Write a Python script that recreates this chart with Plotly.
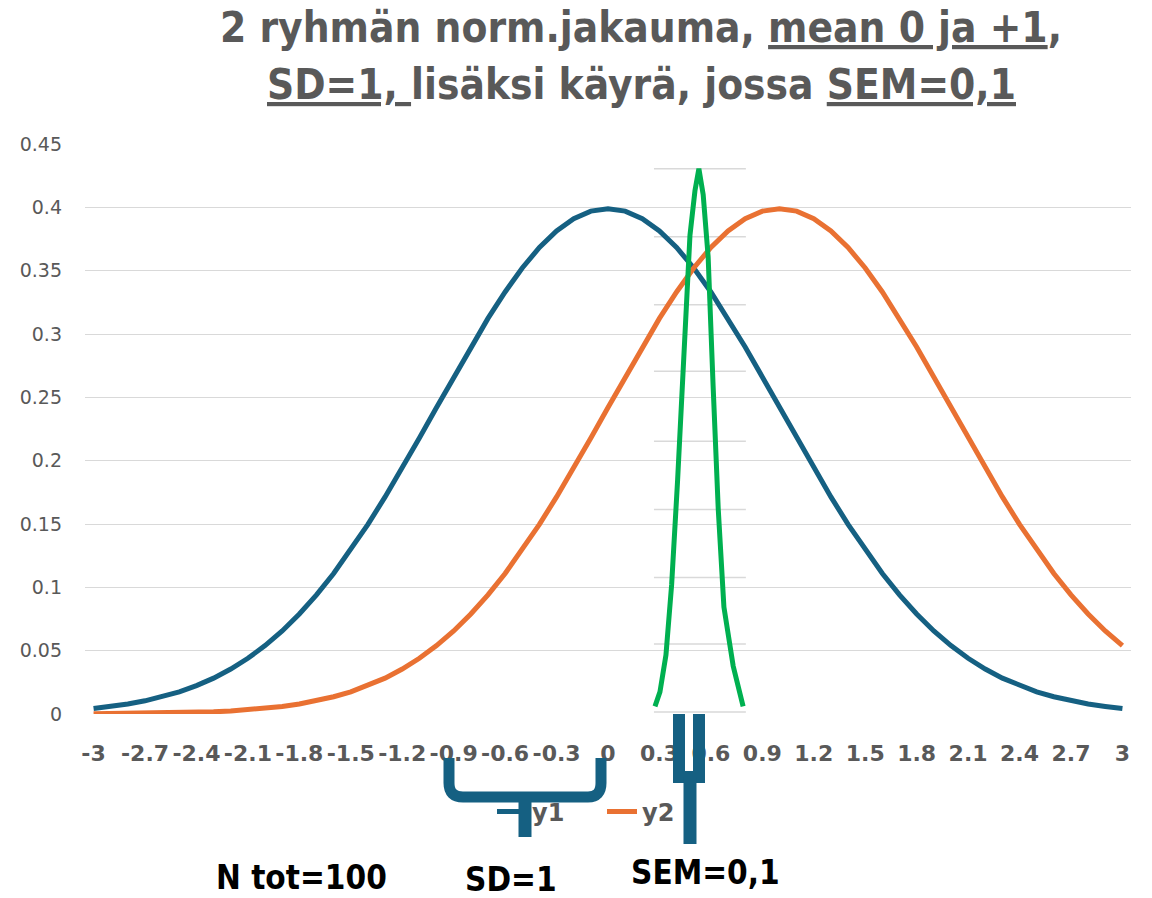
import plotly.graph_objects as go

# ---------------- data ----------------
categories = [round(-3 + 0.1 * i, 1) for i in range(61)]

y1 = [0.0044, 0.0060, 0.0079, 0.0104, 0.0136, 0.0175, 0.0224, 0.0283, 0.0355, 0.0440,
      0.0540, 0.0656, 0.0790, 0.0940, 0.1109, 0.1295, 0.1497, 0.1714, 0.1942, 0.2179,
      0.2420, 0.2661, 0.2897, 0.3123, 0.3332, 0.3521, 0.3683, 0.3814, 0.3910, 0.3970,
      0.3989, 0.3970, 0.3910, 0.3814, 0.3683, 0.3521, 0.3332, 0.3123, 0.2897, 0.2661,
      0.2420, 0.2179, 0.1942, 0.1714, 0.1497, 0.1295, 0.1109, 0.0940, 0.0790, 0.0656,
      0.0540, 0.0440, 0.0355, 0.0283, 0.0224, 0.0175, 0.0136, 0.0104, 0.0079, 0.0060,
      0.0044]

y2 = [0.0001, 0.0002, 0.0003, 0.0004, 0.0006, 0.0009, 0.0012, 0.0017, 0.0024, 0.0033,
      0.0044, 0.0060, 0.0079, 0.0104, 0.0136, 0.0175, 0.0224, 0.0283, 0.0355, 0.0440,
      0.0540, 0.0656, 0.0790, 0.0940, 0.1109, 0.1295, 0.1497, 0.1714, 0.1942, 0.2179,
      0.2420, 0.2661, 0.2897, 0.3123, 0.3332, 0.3521, 0.3683, 0.3814, 0.3910, 0.3970,
      0.3989, 0.3970, 0.3910, 0.3814, 0.3683, 0.3521, 0.3332, 0.3123, 0.2897, 0.2661,
      0.2420, 0.2179, 0.1942, 0.1714, 0.1497, 0.1295, 0.1109, 0.0940, 0.0790, 0.0656,
      0.0540]

# narrow SEM curve (pasted drawing)
sem_x = [0.274, 0.303, 0.338, 0.371, 0.406, 0.443, 0.478, 0.507, 0.530,
         0.555, 0.584, 0.613, 0.643, 0.676, 0.730, 0.788]
sem_y = [0.006, 0.0175, 0.0466, 0.1019, 0.1848, 0.2866, 0.378, 0.413, 0.4305,
         0.410, 0.361, 0.259, 0.1615, 0.0844, 0.0379, 0.006]

# gridlines of the pasted SEM drawing
sem_grid_levels = [0.0015, 0.0553, 0.1077, 0.1615, 0.2153, 0.2706, 0.323, 0.3767, 0.4305]
sem_grid_span = [0.268, 0.804]

x_tick_vals = [-3, -2.7, -2.4, -2.1, -1.8, -1.5, -1.2, -0.9, -0.6, -0.3, 0,
               0.3, 0.6, 0.9, 1.2, 1.5, 1.8, 2.1, 2.4, 2.7, 3]
x_tick_text = ["-3", "-2.7", "-2.4", "-2.1", "-1.8", "-1.5", "-1.2", "-0.9", "-0.6", "-0.3", "0",
               "0.3", "0.6", "0.9", "1.2", "1.5", "1.8", "2.1", "2.4", "2.7", "3"]

title_line1 = "2 ryhmän norm.jakauma, <u>mean 0 ja +1</u>,"
title_line2 = "<u>SD=1, </u>lisäksi käyrä, jossa <u>SEM=0,1</u>"
bottom_notes = ["N tot=100", "SD=1", "SEM=0,1"]

# ---------------- layout geometry ----------------
W, H = 1152, 898
L, R, T, B = 85, 21, 144, 184
PW, PH = W - L - R, H - T - B


def px(xp):
    return (xp - L) / PW


def py(yp):
    return (H - B - yp) / PH


BLUE = "#156082"
ORANGE = "#E97132"
GREEN = "#00B050"
GREY = "#595959"
GRID = "#D9D9D9"
NARROW = "DejaVu Sans Condensed, Liberation Sans Narrow, Arial Narrow, sans-serif"

fig = go.Figure()
fig.add_trace(go.Scatter(x=categories, y=y1, name="y1", mode="lines",
                         line=dict(color=BLUE, width=5)))
fig.add_trace(go.Scatter(x=categories, y=y2, name="y2", mode="lines",
                         line=dict(color=ORANGE, width=5)))
fig.add_trace(go.Scatter(x=sem_x, y=sem_y, name="SEM", mode="lines", showlegend=False,
                         line=dict(color=GREEN, width=5)))

shapes = []
for lv in sem_grid_levels:
    shapes.append(dict(type="line", xref="x", yref="y", x0=sem_grid_span[0], x1=sem_grid_span[1],
                       y0=lv, y1=lv, line=dict(color=GRID, width=1.5), layer="below"))


def curve_path(cmds):
    out = []
    for c in cmds:
        if isinstance(c, str):
            out.append(c)
        else:
            out.append(f"{px(c[0]):.5f},{py(c[1]):.5f}")
    return " ".join(out)


# big curly brace (SD=1)
brace = curve_path(["M", (449, 758), "L", (449, 783), "Q", (449, 797), (463, 797),
                    "L", (588, 797), "Q", (601, 797), (601, 783), "L", (601, 758)])
shapes.append(dict(type="path", xref="paper", yref="paper", path=brace,
                   line=dict(color=BLUE, width=11), layer="above"))
stem = curve_path(["M", (525, 797), "L", (525, 837)])
shapes.append(dict(type="path", xref="paper", yref="paper", path=stem,
                   line=dict(color=BLUE, width=13), layer="above"))

# narrow bracket (SEM)
ubr = curve_path(["M", (679, 714), "L", (679, 777), "L", (699, 777), "L", (699, 714)])
shapes.append(dict(type="path", xref="paper", yref="paper", path=ubr,
                   line=dict(color=BLUE, width=12), layer="above"))
stem2 = curve_path(["M", (690, 777), "L", (690, 844)])
shapes.append(dict(type="path", xref="paper", yref="paper", path=stem2,
                   line=dict(color=BLUE, width=13), layer="above"))

annotations = [
    dict(text=f"<b>{title_line1}</b>", xref="paper", yref="paper", x=px(641), y=py(27),
         xanchor="center", yanchor="middle", showarrow=False,
         font=dict(family=NARROW, size=42, color=GREY)),
    dict(text=f"<b>{title_line2}</b>", xref="paper", yref="paper", x=px(641), y=py(85),
         xanchor="center", yanchor="middle", showarrow=False,
         font=dict(family=NARROW, size=42, color=GREY)),
]
for txt, (cx, cy) in zip(bottom_notes, [(301, 877), (511, 879), (706, 872)]):
    annotations.append(dict(text=f"<b>{txt}</b>", xref="paper", yref="paper", x=px(cx), y=py(cy),
                            xanchor="center", yanchor="middle", showarrow=False,
                            font=dict(family=NARROW, size=33, color="#000000")))

fig.update_layout(
    width=W, height=H,
    margin=dict(l=L, r=R, t=T, b=B, pad=0),
    paper_bgcolor="white", plot_bgcolor="white",
    showlegend=True,
    legend=dict(orientation="h", x=px(492), y=py(812), xanchor="left", yanchor="middle",
                font=dict(family="DejaVu Sans", size=24, color=GREY, weight="bold"),
                bgcolor="rgba(0,0,0,0)", entrywidth=65, entrywidthmode="pixels"),
    shapes=shapes,
    annotations=annotations,
    xaxis=dict(range=[-3.05, 3.05], showgrid=False, zeroline=False, showline=False,
               tickmode="array", tickvals=x_tick_vals, ticktext=x_tick_text,
               ticks="", ticklabelstandoff=24,
               tickfont=dict(family="DejaVu Sans", size=22, color=GREY, weight="bold")),
    yaxis=dict(range=[0, 0.45], dtick=0.05, tick0=0, showgrid=True, gridcolor=GRID, gridwidth=1.3,
               zeroline=False, showline=False, ticks="", ticklabelstandoff=22,
               tickfont=dict(family="DejaVu Sans", size=19, color=GREY)),
)

fig.write_html("out.html")
